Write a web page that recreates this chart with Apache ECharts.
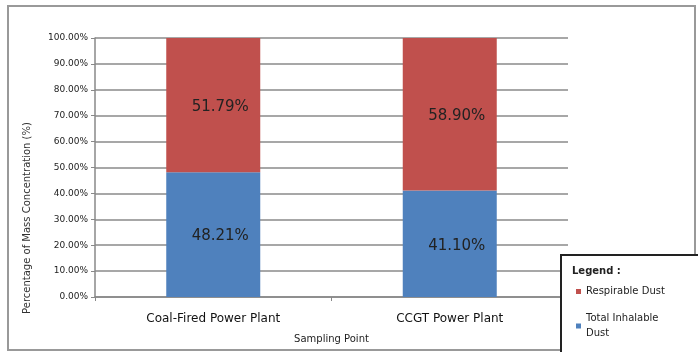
<!DOCTYPE html>
<html>
<head>
<meta charset="utf-8">
<script src="https://cdn.jsdelivr.net/npm/echarts@6/dist/echarts.min.js"></script>
<style>
  html, body { margin: 0; padding: 0; background: #fff; }
  #chart { width: 698px; height: 352px; }
</style>
</head>
<body>
<div id="chart"></div>
<script>
// Sampling points and the share of mass concentration per dust fraction (%)
const categories = ['Coal-Fired Power Plant', 'CCGT Power Plant'];
const totalInhalable = [48.21, 41.10];
const respirable = [51.79, 58.90];
const seriesNames = ['Respirable Dust', 'Total Inhalable Dust'];
const yTicks = { min: 0, max: 100, step: 10 };

const FONT = 'DejaVu Sans';
const chart = echarts.init(document.getElementById('chart'), null, { renderer: 'canvas' });

const barLabel = {
  show: true,
  position: 'inside',
  offset: [7, 2],
  color: '#222',
  fontFamily: FONT,
  fontSize: 15,
  formatter: p => p.value.toFixed(2) + '%'
};

// One legend block per entry so each sits on its own row inside the box
const legendBase = {
  orient: 'vertical',
  left: 571,
  itemWidth: 5,
  itemHeight: 5,
  icon: 'rect',
  textStyle: {
    fontFamily: FONT, fontSize: 10, color: '#222',
    width: 82, overflow: 'break', lineHeight: 15
  },
  z: 20
};

chart.setOption({
  backgroundColor: '#fff',
  animation: false,
  grid: { left: 95, right: 130, top: 38, bottom: 55 },
  xAxis: {
    type: 'category',
    data: categories,
    name: 'Sampling Point',
    nameLocation: 'middle',
    nameGap: 37,
    nameTextStyle: { fontFamily: FONT, fontSize: 10, color: '#222' },
    axisLine: { lineStyle: { color: '#888', width: 1.5 } },
    axisTick: { show: true, length: 4, lineStyle: { color: '#888' } },
    axisLabel: { fontFamily: FONT, fontSize: 12, color: '#111', margin: 16 }
  },
  yAxis: {
    type: 'value',
    min: yTicks.min,
    max: yTicks.max,
    interval: yTicks.step,
    axisLine: { show: true, lineStyle: { color: '#888', width: 1.5 } },
    axisTick: { show: true, length: 4, lineStyle: { color: '#888' } },
    axisLabel: {
      fontFamily: FONT, fontSize: 9, color: '#222', margin: 7,
      formatter: v => v.toFixed(2) + '%'
    },
    splitLine: { lineStyle: { color: '#8a8a8a', width: 1.5 } }
  },
  legend: [
    Object.assign({}, legendBase, { data: [seriesNames[0]], top: 279 }),
    Object.assign({}, legendBase, { data: [seriesNames[1]], top: 306 })
  ],
  graphic: [
    {
      type: 'rect', z: 0, silent: true,
      shape: { x: 8, y: 6, width: 687, height: 344 },
      style: { fill: 'none', stroke: '#999', lineWidth: 2 }
    },
    {
      type: 'text', z: 5, silent: true,
      x: 27, y: 218, rotation: Math.PI / 2,
      style: {
        text: 'Percentage of Mass Concentration (%)',
        fontFamily: FONT, fontSize: 10, fill: '#333',
        align: 'center', verticalAlign: 'middle'
      }
    },
    {
      type: 'rect', z: 10, silent: true,
      shape: { x: 561, y: 255, width: 140, height: 100 },
      style: { fill: '#fff', stroke: '#222', lineWidth: 2 }
    },
    {
      type: 'text', z: 11, silent: true,
      x: 572, y: 266,
      style: {
        text: 'Legend :', fontFamily: FONT, fontSize: 10,
        fontWeight: 'bold', fill: '#222'
      }
    }
  ],
  series: [
    {
      name: 'Total Inhalable Dust',
      type: 'bar',
      stack: 'share',
      barWidth: 94,
      data: totalInhalable,
      itemStyle: { color: '#4F81BD' },
      label: barLabel
    },
    {
      name: 'Respirable Dust',
      type: 'bar',
      stack: 'share',
      barWidth: 94,
      data: respirable,
      itemStyle: { color: '#C0504D' },
      label: barLabel
    }
  ]
});
</script>
</body>
</html>
